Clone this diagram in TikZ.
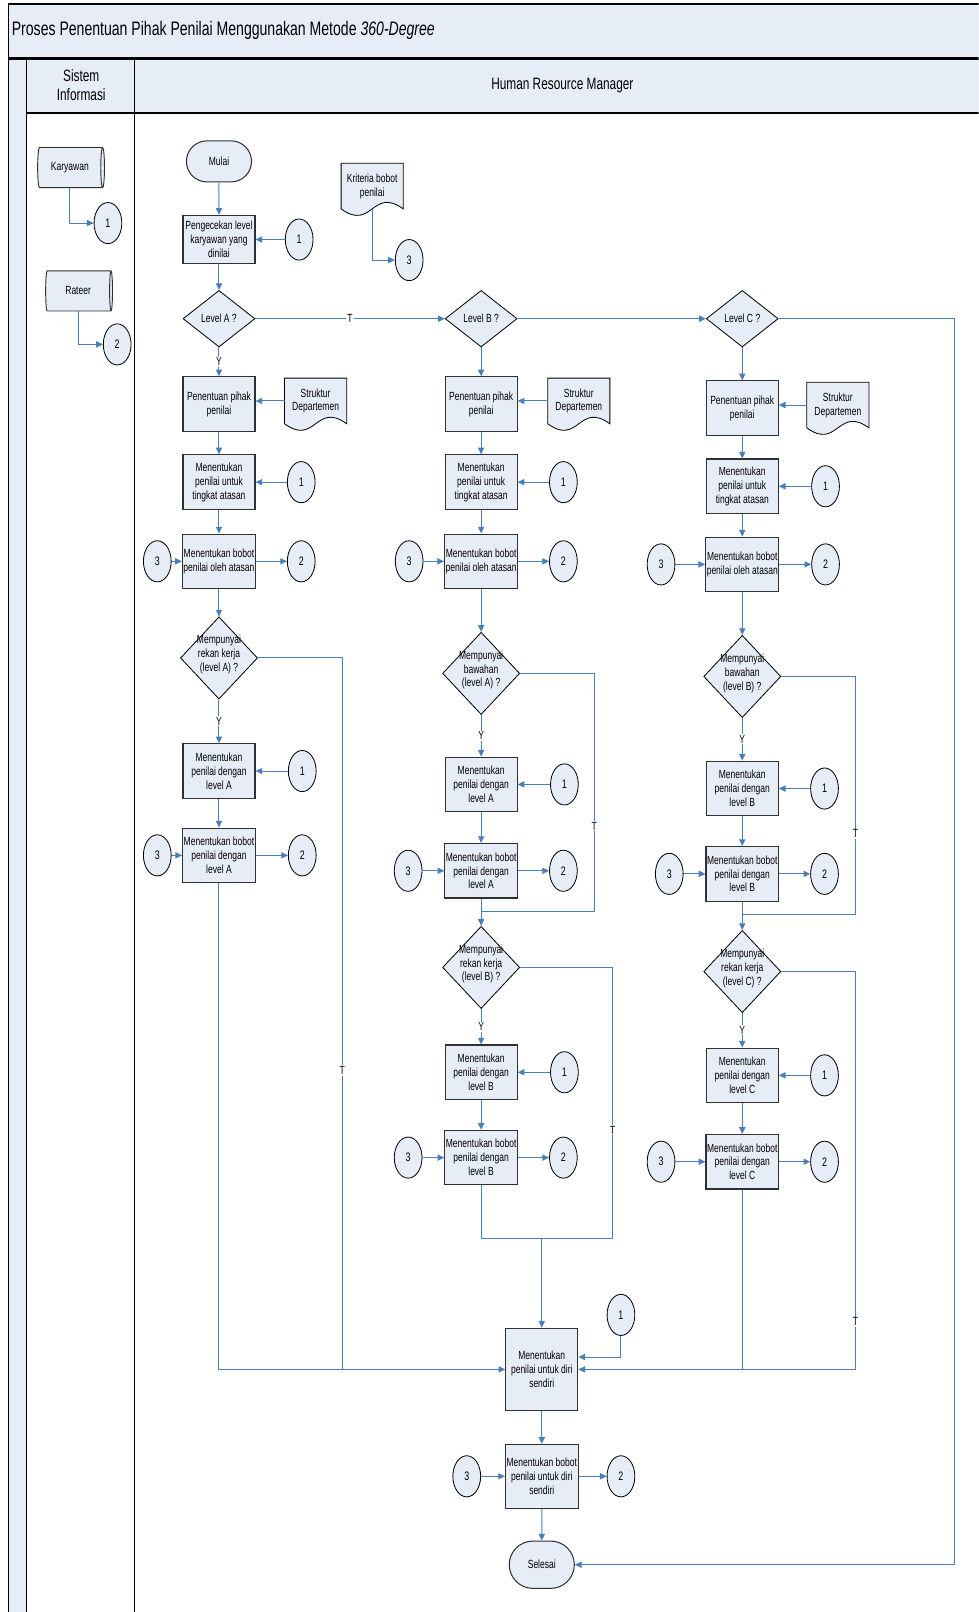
\documentclass[tikz,border=0pt]{standalone}
\usepackage{fontspec}
\setmainfont{Liberation Sans}[FakeStretch=0.72]
\usepackage{xcolor}
\definecolor{laneFill}{HTML}{E7EDF7}
\definecolor{flowBlue}{HTML}{4A7EBB}
\definecolor{edgeGray}{HTML}{303030}
\usetikzlibrary{shapes.geometric, shapes.misc, arrows.meta, calc}
\pgfdeclarelayer{background}
\pgfsetlayers{background,main}
\newcommand{\dtext}[1]{\makebox[0pt]{\smash{\begin{tabular}{@{}c@{}}#1\end{tabular}}}}

\begin{document}
\begin{tikzpicture}[
        x=1pt, y=-1pt,
        >={Triangle[length=6.5pt, width=6pt]},
        processBox/.style={
            draw=edgeGray,
            fill=laneFill,
            line width=1.1pt,
            minimum width=70pt,
            minimum height=53pt,
            inner sep=1pt,
            align=center,
            font=\fontsize{11.5}{13.5}\selectfont
        },
        decisionNode/.style={
            diamond,
            draw=black,
            fill=laneFill,
            line width=0.8pt,
            inner sep=0pt,
            minimum width=70pt,
            minimum height=55pt,
            font=\fontsize{11.5}{13.5}\selectfont
        },
        questionNode/.style={
            decisionNode,
            minimum width=75pt,
            minimum height=80pt
        },
        terminalNode/.style={
            rounded rectangle,
            draw=edgeGray,
            fill=laneFill,
            line width=1pt,
            minimum width=70pt,
            minimum height=40pt,
            font=\fontsize{11.5}{13.5}\selectfont
        },
        connNode/.style={
            ellipse,
            draw=black,
            fill=laneFill,
            line width=0.8pt,
            inner sep=0pt,
            minimum width=27pt,
            minimum height=40pt,
            font=\fontsize{12}{13}\selectfont
        },
        dbNode/.style={
            cylinder,
            draw=edgeGray,
            fill=laneFill,
            line width=0.9pt,
            shape aspect=0.35,
            inner sep=0pt,
            minimum width=39pt,
            minimum height=65pt,
            font=\fontsize{11.5}{13.5}\selectfont
        },
        docNode/.style={
            minimum width=60pt,
            minimum height=44pt,
            inner sep=0pt,
            align=center,
            font=\fontsize{11.5}{13.5}\selectfont
        },
        docOutline/.style={
            draw=black,
            fill=laneFill,
            line width=0.8pt
        },
        flowLine/.style={
            draw=flowBlue,
            line width=1pt
        },
        flowArrow/.style={
            flowLine,
            ->
        },
        tagLabel/.style={
            fill=white,
            inner sep=1pt,
            text=black,
            font=\fontsize{11.5}{12}\selectfont
        }
    ]
    \useasboundingbox (0,0) rectangle (952,1568);
    \clip (0,0) rectangle (952,1568);

    % swimlanes
    \fill[laneFill] (8,4) rectangle (1000,110);
    \fill[laneFill] (8,110) rectangle (26,1600);
    \draw[line width=1.2pt] (8,4) -- (1000,4);
    \draw[line width=1.2pt] (8,4) -- (8,1600);
    \draw[line width=2.2pt] (8,57) -- (1000,57);
    \draw[line width=1.2pt] (26,57) -- (26,1600);
    \draw[line width=1.2pt] (131,57) -- (131,1600);
    \draw[line width=1.2pt] (26,110) -- (1000,110);

    \node[anchor=west, font=\fontsize{19}{22}\selectfont] (title) at (8,30) {Proses Penentuan Pihak Penilai Menggunakan Metode \textit{360-Degree}};
    \node[align=center, font=\fontsize{16}{19}\selectfont] (laneSI) at (79,83) {Sistem\\Informasi};
    \node[font=\fontsize{16}{19}\selectfont] (laneHRM) at (547,83) {Human Resource Manager};

    % Sistem Informasi
    \node[dbNode] (karyawan) at (68,163) {Karyawan};
    \node[connNode] (c1kar) at (105,217) {1};
    \node[dbNode] (rateer) at (76,283) {Rateer};
    \node[connNode] (c2rat) at (114,335) {2};

    % Human Resource Manager: start
    \node[terminalNode] (mulai) at (213,157) {Mulai};
    \node[processBox, minimum height=47pt] (cek) at (213,233) {Pengecekan level\\karyawan yang\\dinilai};
    \node[connNode] (c1cek) at (291,233) {1};
    \node[docNode] (kriteria) at (362,181) {Kriteria bobot\\penilai};
    \node[connNode] (c3krit) at (398,253) {3};

    \node[decisionNode] (lvlA) at (213,310) {Level A ?};
    \node[decisionNode] (lvlB) at (468,310) {Level B ?};
    \node[decisionNode] (lvlC) at (722,310) {Level C ?};

    % column A
    \node[processBox] (penA) at (213,393) {Penentuan pihak\\penilai};
    \node[docNode] (strA) at (307,390) {Struktur\\Departemen};
    \node[processBox] (pnA) at (213,469) {Menentukan\\penilai untuk\\tingkat atasan};
    \node[connNode] (c1pnA) at (293,469) {1};
    \node[processBox] (bbA) at (213,546) {Menentukan bobot\\penilai oleh atasan};
    \node[connNode] (c3bbA) at (153,546) {3};
    \node[connNode] (c2bbA) at (293,546) {2};
    \node[questionNode] (rkA) at (213,640) {\dtext{Mempunyai\\rekan kerja\\(level A) ?}};
    \node[processBox] (dgA) at (213,750) {Menentukan\\penilai dengan\\level A};
    \node[connNode] (c1dgA) at (294,750) {1};
    \node[processBox] (bdA) at (213,832) {Menentukan bobot\\penilai dengan\\level A};
    \node[connNode] (c3bdA) at (153,832) {3};
    \node[connNode] (c2bdA) at (294,832) {2};

    % column B
    \node[processBox] (penB) at (468,393) {Penentuan pihak\\penilai};
    \node[docNode] (strB) at (563,390) {Struktur\\Departemen};
    \node[processBox] (pnB) at (468,469) {Menentukan\\penilai untuk\\tingkat atasan};
    \node[connNode] (c1pnB) at (548,469) {1};
    \node[processBox] (bbB) at (468,546) {Menentukan bobot\\penilai oleh atasan};
    \node[connNode] (c3bbB) at (398,546) {3};
    \node[connNode] (c2bbB) at (548,546) {2};
    \node[questionNode] (bwB) at (468,655) {\dtext{Mempunyai\\bawahan\\(level A) ?}};
    \node[processBox] (dgB1) at (468,763) {Menentukan\\penilai dengan\\level A};
    \node[connNode] (c1dgB1) at (549,763) {1};
    \node[processBox] (bdB1) at (468,847) {Menentukan bobot\\penilai dengan\\level A};
    \node[connNode] (c3bdB1) at (397,847) {3};
    \node[connNode] (c2bdB1) at (548,847) {2};
    \node[questionNode] (rkB) at (468,941) {\dtext{Mempunyai\\rekan kerja\\(level B) ?}};
    \node[processBox] (dgB2) at (468,1043) {Menentukan\\penilai dengan\\level B};
    \node[connNode] (c1dgB2) at (549,1043) {1};
    \node[processBox] (bdB2) at (468,1126) {Menentukan bobot\\penilai dengan\\level B};
    \node[connNode] (c3bdB2) at (397,1126) {3};
    \node[connNode] (c2bdB2) at (548,1126) {2};

    % column C
    \node[processBox] (penC) at (722,397) {Penentuan pihak\\penilai};
    \node[docNode] (strC) at (815,394) {Struktur\\Departemen};
    \node[processBox] (pnC) at (722,473) {Menentukan\\penilai untuk\\tingkat atasan};
    \node[connNode] (c1pnC) at (803,473) {1};
    \node[processBox] (bbC) at (722,549) {Menentukan bobot\\penilai oleh atasan};
    \node[connNode] (c3bbC) at (643,549) {3};
    \node[connNode] (c2bbC) at (803,549) {2};
    \node[questionNode] (bwC) at (722,658) {\dtext{Mempunyai\\bawahan\\(level B) ?}};
    \node[processBox] (dgC1) at (722,767) {Menentukan\\penilai dengan\\level B};
    \node[connNode] (c1dgC1) at (802,767) {1};
    \node[processBox] (bdC1) at (722,850) {Menentukan bobot\\penilai dengan\\level B};
    \node[connNode] (c3bdC1) at (651,850) {3};
    \node[connNode] (c2bdC1) at (802,850) {2};
    \node[questionNode] (rkC) at (722,945) {\dtext{Mempunyai\\rekan kerja\\(level C) ?}};
    \node[processBox] (dgC2) at (722,1046) {Menentukan\\penilai dengan\\level C};
    \node[connNode] (c1dgC2) at (802,1046) {1};
    \node[processBox] (bdC2) at (722,1130) {Menentukan bobot\\penilai dengan\\level C};
    \node[connNode] (c3bdC2) at (643,1130) {3};
    \node[connNode] (c2bdC2) at (802,1130) {2};

    % end
    \node[processBox, minimum height=80pt] (diri) at (527,1332) {Menentukan\\penilai untuk diri\\sendiri};
    \node[connNode] (c1diri) at (604,1279) {1};
    \node[processBox, minimum height=62pt] (bdDiri) at (527,1436) {Menentukan bobot\\penilai untuk diri\\sendiri};
    \node[connNode] (c3bdD) at (454,1436) {3};
    \node[connNode] (c2bdD) at (604,1436) {2};
    \node[terminalNode, minimum height=46pt] (selesai) at (527,1522) {Selesai};

    \coordinate (jA) at (333,1332);
    \coordinate (tB1) at (578,887);
    \coordinate (jB1) at (468,887);
    \coordinate (tB2) at (596,1205);
    \coordinate (tC1) at (832,890);
    \coordinate (jC1) at (722,890);
    \coordinate (tC2) at (832,1332);
    \coordinate (endR) at (928,1522);

    % document shapes
    \begin{pgfonlayer}{background}
        \foreach \d in {kriteria, strA, strB, strC}
            \draw[docOutline] (\d.south west) -- (\d.north west) -- (\d.north east) -- (\d.south east)
                .. controls ($(\d.south)+(0,-22)$) and ($(\d.south)+(0,22)$) .. (\d.south west) -- cycle;
    \end{pgfonlayer}

    % Sistem Informasi flows
    \draw[flowArrow] (karyawan.south) |- (c1kar.west);
    \draw[flowArrow] (rateer.south) |- (c2rat.west);

    % start flows
    \draw[flowArrow] (mulai) -- (cek);
    \draw[flowArrow] (c1cek) -- (cek);
    \draw[flowArrow] (kriteria.south) |- (c3krit.west);
    \draw[flowArrow] (cek) -- (lvlA);
    \draw[flowArrow] (lvlA) -- node[tagLabel]{T} (lvlB);
    \draw[flowArrow] (lvlB) -- (lvlC);
    \draw[flowArrow] (lvlC.east) -| (endR) -- (selesai.east);

    % column A flows
    \draw[flowArrow] (lvlA) -- node[tagLabel]{Y} (penA);
    \draw[flowArrow] (strA.west) -- (strA.west -| penA.east);
    \draw[flowArrow] (penA) -- (pnA);
    \draw[flowArrow] (c1pnA) -- (pnA);
    \draw[flowArrow] (pnA) -- (bbA);
    \draw[flowArrow] (c3bbA) -- (bbA);
    \draw[flowArrow] (bbA) -- (c2bbA);
    \draw[flowArrow] (bbA) -- (rkA);
    \draw[flowArrow] (rkA) -- node[tagLabel]{Y} (dgA);
    \draw[flowArrow] (c1dgA) -- (dgA);
    \draw[flowArrow] (dgA) -- (bdA);
    \draw[flowArrow] (c3bdA) -- (bdA);
    \draw[flowArrow] (bdA) -- (c2bdA);
    \draw[flowLine] (rkA.east) -| node[tagLabel, pos=0.79]{T} (jA);
    \draw[flowArrow] (bdA.south) |- (diri.west);

    % column B flows
    \draw[flowArrow] (lvlB) -- (penB);
    \draw[flowArrow] (strB.west) -- (strB.west -| penB.east);
    \draw[flowArrow] (penB) -- (pnB);
    \draw[flowArrow] (c1pnB) -- (pnB);
    \draw[flowArrow] (pnB) -- (bbB);
    \draw[flowArrow] (c3bbB) -- (bbB);
    \draw[flowArrow] (bbB) -- (c2bbB);
    \draw[flowArrow] (bbB) -- (bwB);
    \draw[flowArrow] (bwB) -- node[tagLabel]{Y} (dgB1);
    \draw[flowArrow] (c1dgB1) -- (dgB1);
    \draw[flowArrow] (dgB1) -- (bdB1);
    \draw[flowArrow] (c3bdB1) -- (bdB1);
    \draw[flowArrow] (bdB1) -- (c2bdB1);
    \draw[flowLine] (bwB.east) -| node[tagLabel, pos=0.82]{T} (tB1) -- (jB1);
    \draw[flowArrow] (bdB1) -- (rkB);
    \draw[flowArrow] (rkB) -- node[tagLabel]{Y} (dgB2);
    \draw[flowArrow] (c1dgB2) -- (dgB2);
    \draw[flowArrow] (dgB2) -- (bdB2);
    \draw[flowArrow] (c3bdB2) -- (bdB2);
    \draw[flowArrow] (bdB2) -- (c2bdB2);
    \draw[flowLine] (rkB.east) -| node[tagLabel, pos=0.8]{T} (tB2);
    \draw[flowLine] (bdB2.south) |- (tB2);
    \draw[flowArrow] (diri.north |- tB2) -- (diri);

    % column C flows
    \draw[flowArrow] (lvlC) -- (penC);
    \draw[flowArrow] (strC.west) -- (strC.west -| penC.east);
    \draw[flowArrow] (penC) -- (pnC);
    \draw[flowArrow] (c1pnC) -- (pnC);
    \draw[flowArrow] (pnC) -- (bbC);
    \draw[flowArrow] (c3bbC) -- (bbC);
    \draw[flowArrow] (bbC) -- (c2bbC);
    \draw[flowArrow] (bbC) -- (bwC);
    \draw[flowArrow] (bwC) -- node[tagLabel]{Y} (dgC1);
    \draw[flowArrow] (c1dgC1) -- (dgC1);
    \draw[flowArrow] (dgC1) -- (bdC1);
    \draw[flowArrow] (c3bdC1) -- (bdC1);
    \draw[flowArrow] (bdC1) -- (c2bdC1);
    \draw[flowLine] (bwC.east) -| node[tagLabel, pos=0.83]{T} (tC1) -- (jC1);
    \draw[flowArrow] (bdC1) -- (rkC);
    \draw[flowArrow] (rkC) -- node[tagLabel]{Y} (dgC2);
    \draw[flowArrow] (c1dgC2) -- (dgC2);
    \draw[flowArrow] (dgC2) -- (bdC2);
    \draw[flowArrow] (c3bdC2) -- (bdC2);
    \draw[flowArrow] (bdC2) -- (c2bdC2);
    \draw[flowArrow] (rkC.east) -| node[tagLabel, pos=0.94]{T} (tC2) -- (diri.east);
    \draw[flowLine] (bdC2.south) -- (bdC2.south |- tC2);

    % end flows
    \draw[flowArrow] (c1diri.south) |- ($(diri.east)+(0,-12)$);
    \draw[flowArrow] (diri) -- (bdDiri);
    \draw[flowArrow] (c3bdD) -- (bdDiri);
    \draw[flowArrow] (bdDiri) -- (c2bdD);
    \draw[flowArrow] (bdDiri) -- (selesai);

\end{tikzpicture}
\end{document}
